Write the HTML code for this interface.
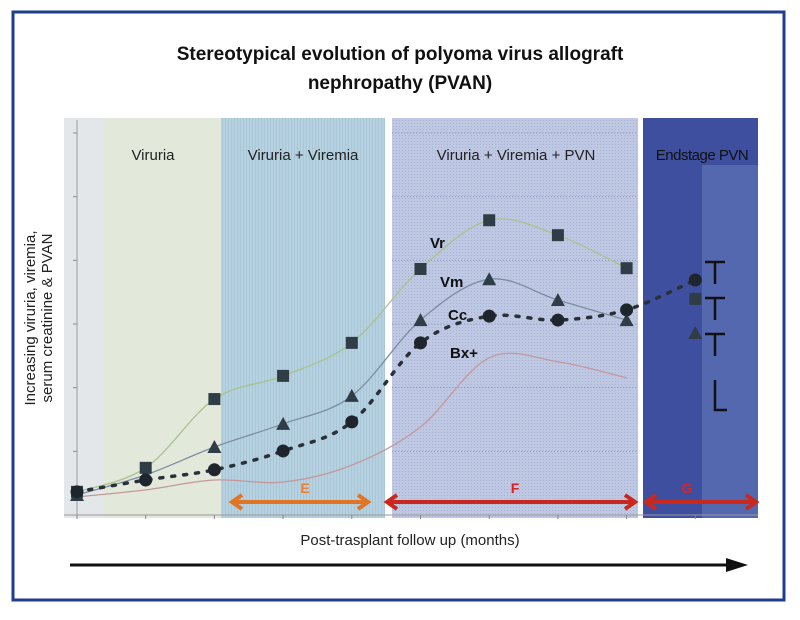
<!DOCTYPE html>
<html><head><meta charset="utf-8"><style>
body{margin:0;background:#fff;width:800px;height:615px;overflow:hidden;font-family:"Liberation Sans",sans-serif}
</style></head><body>
<svg width="800" height="615" xmlns="http://www.w3.org/2000/svg">
<defs>
<pattern id="dots" width="3" height="3" patternUnits="userSpaceOnUse"><rect width="3" height="3" fill="#bfc8e3"/><rect width="1" height="1" fill="#a9b3d6"/></pattern>
<pattern id="vstripe" width="3" height="3" patternUnits="userSpaceOnUse"><rect width="3" height="3" fill="#b6d1df"/><rect width="1" height="3" fill="#a9c6d8"/></pattern>
</defs>
<rect x="13" y="12" width="771" height="588" fill="#fff" stroke="#1f3d8e" stroke-width="3"/>
<text x="400" y="60" text-anchor="middle" font-size="19" font-weight="bold" fill="#111">Stereotypical evolution of polyoma virus allograft</text>
<text x="400" y="89" text-anchor="middle" font-size="19" font-weight="bold" fill="#111">nephropathy (PVAN)</text>
<g>
<rect x="64" y="118" width="40" height="400" fill="#e4e7ea"/>
<rect x="104" y="118" width="117" height="400" fill="#e2e8da"/>
<rect x="221" y="118" width="164" height="400" fill="url(#vstripe)"/>
<rect x="392" y="118" width="246" height="400" fill="url(#dots)"/>
<rect x="643" y="118" width="115" height="400" fill="#3d4f9e"/>
<rect x="702" y="165" width="56" height="353" fill="#5468b0"/>
</g>
<g id="grid"></g>
<text x="153" y="160" text-anchor="middle" font-size="15" fill="#222">Viruria</text>
<text x="303" y="160" text-anchor="middle" font-size="15" fill="#222">Viruria + Viremia</text>
<text x="516" y="160" text-anchor="middle" font-size="15" fill="#222">Viruria + Viremia + PVN</text>
<text x="702" y="160" text-anchor="middle" font-size="15" fill="#111" letter-spacing="-0.5">Endstage PVN</text>
<g id="axes"></g>
<g id="series"></g>
<g font-size="15" font-weight="bold" fill="#111">
<text x="430" y="248">Vr</text><text x="440" y="287">Vm</text><text x="448" y="320">Cc</text><text x="450" y="358">Bx+</text>
</g>
<g stroke="#111" stroke-width="2.5" fill="none">
<path d="M715 262v22M705 262h20M715 298v22M705 298h20M715 334v22M705 334h20M715 380v30h12"/>
</g>
<g>
<g stroke="#e07526" stroke-width="4" fill="none"><path d="M232 502H368M242 495l-10 7 10 7M358 495l10 7-10 7"/></g>
<text x="305" y="493" text-anchor="middle" font-size="14" font-weight="bold" fill="#f08030">E</text>
<g stroke="#c8281e" stroke-width="4" fill="none"><path d="M387 502H635M397 495l-10 7 10 7M625 495l10 7-10 7"/></g>
<text x="515" y="493" text-anchor="middle" font-size="14" font-weight="bold" fill="#e02020">F</text>
<g stroke="#c8281e" stroke-width="4" fill="none"><path d="M646 502H756M656 495l-10 7 10 7M746 495l10 7-10 7"/></g>
<text x="687" y="493" text-anchor="middle" font-size="14" font-weight="bold" fill="#e02020">G</text>
</g>
<g font-size="15" fill="#222" text-anchor="middle">
<text transform="translate(35,318) rotate(-90)">Increasing viruria, viremia,</text>
<text transform="translate(52,318) rotate(-90)">serum creatinine &amp; PVAN</text>
</g>
<text x="410" y="545" text-anchor="middle" font-size="15" fill="#222">Post-trasplant follow up (months)</text>
<g><path d="M70 565H728" stroke="#111" stroke-width="3"/><path d="M726 558L748 565L726 572Z" fill="#111"/></g>
</svg>
<script>
const months=[0,1,2,3,4,5,6,7,8,9];
const vr=[5.9,12,29.5,35.4,43.8,62.6,75,71.2,62.8,55];
const vm=[5.1,10.2,17.3,23.2,30.3,49.6,60,54.7,49.6,46.3];
const cc=[5.9,8.9,11.5,16.3,23.7,43.8,50.6,49.6,52.2,59.8];
const bx=[4.6,6.4,8.9,8.4,12.7,22.4,40,39,34.9];
const yTicks=[0,1,2,3,4,5,6];
const NS='http://www.w3.org/2000/svg';
const X=i=>77+68.7*i, Y=v=>515-3.93*v;
function mk(t,a,p){const e=document.createElementNS(NS,t);for(const k in a)e.setAttribute(k,a[k]);p.appendChild(e);return e;}
const ax=document.getElementById('axes'),gr=document.getElementById('grid'),sr=document.getElementById('series');
yTicks.forEach(t=>{const y=Y(t*16.2);
 const g=mk('line',{x1:392,x2:638,y1:y,y2:y,stroke:'#8e98c0','stroke-dasharray':'1 2'},gr);
 
 
 mk('line',{x1:73,x2:77,y1:y,y2:y,stroke:'#888'},ax);});
mk('line',{x1:77,x2:77,y1:120,y2:515,stroke:'#999'},ax);
mk('line',{x1:64,x2:758,y1:515,y2:515,stroke:'#999'},ax);
months.forEach(m=>mk('line',{x1:X(m),x2:X(m),y1:515,y2:519,stroke:'#888'},ax));
function smooth(d){const P=d.map((v,i)=>[X(i),Y(v)]);let s='M'+P[0][0]+' '+P[0][1];
 for(let i=0;i<P.length-1;i++){const p0=P[i-1]||P[i],p1=P[i],p2=P[i+1],p3=P[i+2]||p2;
  const c1=[p1[0]+(p2[0]-p0[0])/6,p1[1]+(p2[1]-p0[1])/6],c2=[p2[0]-(p3[0]-p1[0])/6,p2[1]-(p3[1]-p1[1])/6];
  s+=`C${c1[0]} ${c1[1]} ${c2[0]} ${c2[1]} ${p2[0]} ${p2[1]}`;}return s;}
function line(d,col,w,dash,n){
 const p=mk('path',{d:smooth(d),fill:'none',stroke:col,'stroke-width':w,'stroke-linecap':'round'},sr);if(dash)p.setAttribute('stroke-dasharray',dash);
 
 }
line(vr.slice(0,9),'#a9c28c',1.3,null,'vr-line');
line(vm.slice(0,9),'#7d8ea0',1.3,null,'vm-line');
line(bx,'#c4989a',1.3,null,'bx-line');
line(cc,'#2a3038',3.5,'3 9','cc-line');
vr.forEach((v,i)=>{const r=mk('rect',{x:X(i)-6,y:Y(v)-6,width:12,height:12,fill:'#2f3d47'},sr);
 
 });
vm.forEach((v,i)=>{const x=X(i),y=Y(v);const p=mk('path',{d:`M${x-7} ${y+6}L${x} ${y-7}L${x+7} ${y+6}Z`,fill:'#2f3d47'},sr);
 
 });
cc.forEach((v,i)=>{const c=mk('circle',{cx:X(i),cy:Y(v),r:6.5,fill:'#1f252c'},sr);
 
 });
</script>
</body></html>
